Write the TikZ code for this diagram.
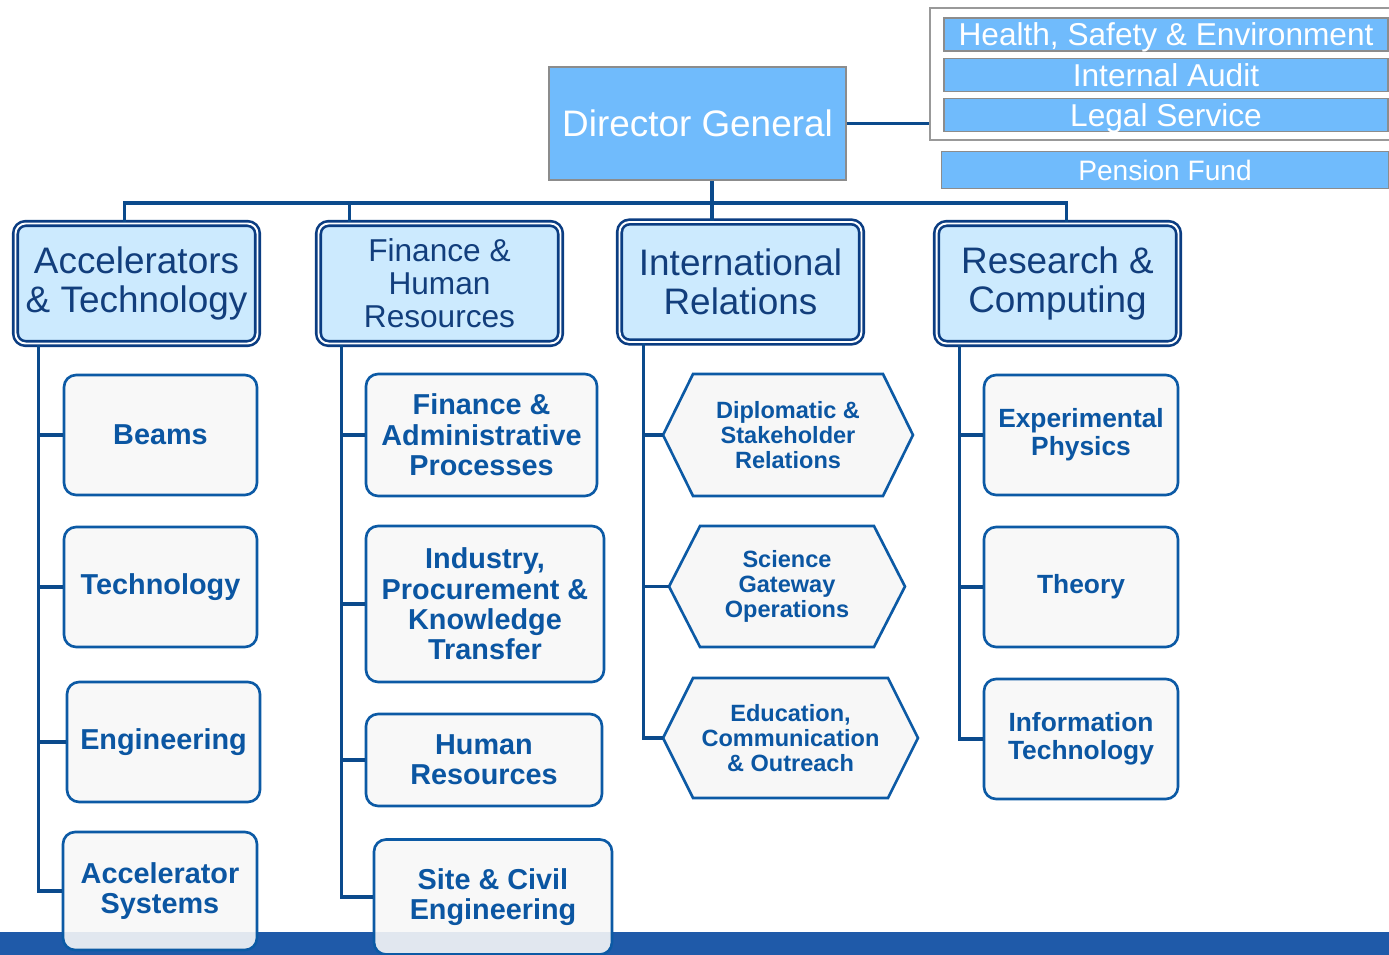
\documentclass[tikz,border=0pt]{standalone}
\usepackage{fontspec}
\setmainfont{Liberation Sans}
\usepackage{tikz}
\usetikzlibrary{calc,backgrounds}
\definecolor{dgblue}{HTML}{70BBFC}
\definecolor{deptfill}{HTML}{CCEAFE}
\definecolor{deptline}{HTML}{0B3D82}
\definecolor{depttext}{HTML}{123E7C}
\definecolor{unitline}{HTML}{0C5AA5}
\definecolor{unittext}{HTML}{0B56A2}
\definecolor{unitfill}{HTML}{F7F7F7}
\definecolor{connblue}{HTML}{0B4A8C}
\definecolor{barblue}{HTML}{1F5AA9}
\newcommand{\fs}[2]{\fontsize{#1}{#2}\selectfont}

\begin{document}
\begin{tikzpicture}[x=0.02cm, y=-0.02cm,
    conn/.style={draw=connblue, line width=1.8pt},
    head/.style={draw=gray!90, line width=1pt, fill=dgblue, text=white, inner sep=0pt},
    staffbox/.style={head, minimum width=8.88cm, minimum height=0.66cm, font=\fs{18}{20},
      text height=13pt, text depth=0pt},
    dept/.style={draw=deptline, double=white, double distance=1.1pt, line width=1.5pt,
      fill=deptfill, text=depttext, rounded corners=0.2cm, align=center,
      minimum width=4.84cm, minimum height=2.4cm, font=\fs{21}{22}},
    unit/.style={draw=unitline, line width=1.5pt, fill=unitfill, fill opacity=0.9, text opacity=1,
      text=unittext, rounded corners=0.24cm, align=center, inner sep=2pt,
      font=\bfseries\fs{16.4}{17.3}},
    hexa/.style={outer sep=0pt, inner sep=0pt, text=unittext, align=center,
      font=\bfseries\fs{13.4}{14.2}},
    hexline/.style={draw=unitline, line width=1.5pt, fill=unitfill}]
      \useasboundingbox (0,0) rectangle (1389,955);
      \fill[barblue] (0,932) rectangle (1389,955);

      \node[head, minimum width=5.94cm, minimum height=2.27cm, font=\fs{21}{24}] (dg) at (697.5,123.5) {Director General};

      \node[draw=gray!80, line width=1pt, minimum width=9.28cm, minimum height=2.64cm] (staff) at (1162,74) {};
      \node[staffbox] (hse) at (1166,34.5) {Health, Safety \& Environment};
      \node[staffbox] (ia) at (1166,75) {Internal Audit};
      \node[staffbox] (ls) at (1166,115) {Legal Service};
      \node[staffbox, minimum width=8.94cm, minimum height=0.74cm, font=\fs{16}{18}, text height=11.5pt] (pf) at (1165,170) {Pension Fund};

      \node[dept] (at) at (136.5,283.5) {Accelerators\\\& Technology};
      \node[dept, font=\fs{18}{18.7}] (fh) at (439.5,283.5) {Finance \&\\Human\\Resources};
      \node[dept] (ir) at (740.5,282) {International\\Relations};
      \node[dept] (rc) at (1057.5,283.5) {Research \&\\Computing};

      \node[unit, minimum width=3.86cm, minimum height=2.4cm] (bm) at (160.5,435) {Beams};
      \node[unit, minimum width=3.86cm, minimum height=2.4cm] (tech) at (160.5,587) {Technology};
      \node[unit, minimum width=3.86cm, minimum height=2.4cm] (eng) at (163.5,742) {Engineering};
      \node[unit, minimum width=3.88cm, minimum height=2.36cm] (as) at (160,891) {Accelerator\\Systems};

      \node[unit, minimum width=4.62cm, minimum height=2.44cm] (fap) at (481.5,435) {Finance \&\\Administrative\\Processes};
      \node[unit, minimum width=4.76cm, minimum height=3.12cm] (ipk) at (485,604) {Industry,\\Procurement \&\\Knowledge\\Transfer};
      \node[unit, minimum width=4.72cm, minimum height=1.84cm] (hr) at (484,760) {Human\\Resources};
      \node[unit, minimum width=4.76cm, minimum height=2.3cm] (sce) at (493,897) {Site \& Civil\\Engineering};

      \node[hexa, minimum width=5cm, minimum height=2.44cm] (dsr) at (788,435) {Diplomatic \&\\Stakeholder\\Relations};
      \node[hexa, minimum width=4.72cm, minimum height=2.42cm] (sgo) at (787,586.5) {Science\\Gateway\\Operations};
      \node[hexa, minimum width=5.1cm, minimum height=2.4cm] (eco) at (790.5,738) {Education,\\Communication\\\& Outreach};

      \node[unit, minimum width=3.88cm, minimum height=2.4cm, font=\bfseries\fs{15}{15.9}] (ep) at (1081,435) {Experimental\\Physics};
      \node[unit, minimum width=3.88cm, minimum height=2.4cm, font=\bfseries\fs{15}{15.9}] (th) at (1081,587) {Theory};
      \node[unit, minimum width=3.88cm, minimum height=2.4cm, font=\bfseries\fs{15}{15.9}] (it) at (1081,739) {Information\\Technology};

      \begin{scope}[on background layer]
        \foreach \n/\d in {dsr/30,sgo/31,eco/30}
          \filldraw[hexline] (\n.west) -- ($(\n.north west)+(\d,0)$) -- ($(\n.north east)+(-\d,0)$)
            -- (\n.east) -- ($(\n.south east)+(-\d,0)$) -- ($(\n.south west)+(\d,0)$) -- cycle;
      \end{scope}

      \draw[conn] (dg.east) -- (dg.east -| staff.west);

      \coordinate (bus) at (712,203);
      \coordinate (fhtop) at ($(fh.north)+(-90,0)$);
      \draw[conn] (dg.south -| bus) -- (ir.north -| bus);
      \draw[conn] ($(at.north)+(-12,0)$) |- (bus) -| ($(rc.north)+(9,0)$);
      \draw[conn] (fhtop) -- (fhtop |- bus);

      \coordinate (atx) at ($(at.south west)+(24,0)$);
      \draw[conn] (atx) |- (as.west);
      \foreach \n in {bm,tech,eng}
        \draw[conn] (atx |- \n.west) -- (\n.west);

      \coordinate (fhx) at ($(fh.south west)+(24,0)$);
      \draw[conn] (fhx) |- (sce.west);
      \foreach \n in {fap,ipk,hr}
        \draw[conn] (fhx |- \n.west) -- (\n.west);

      \coordinate (irx) at ($(ir.south west)+(25,0)$);
      \draw[conn] (irx) |- (eco.west);
      \foreach \n in {dsr,sgo}
        \draw[conn] (irx |- \n.west) -- (\n.west);

      \coordinate (rcx) at ($(rc.south west)+(24,0)$);
      \draw[conn] (rcx) |- (it.west);
      \foreach \n in {ep,th}
        \draw[conn] (rcx |- \n.west) -- (\n.west);
\end{tikzpicture}
\end{document}
